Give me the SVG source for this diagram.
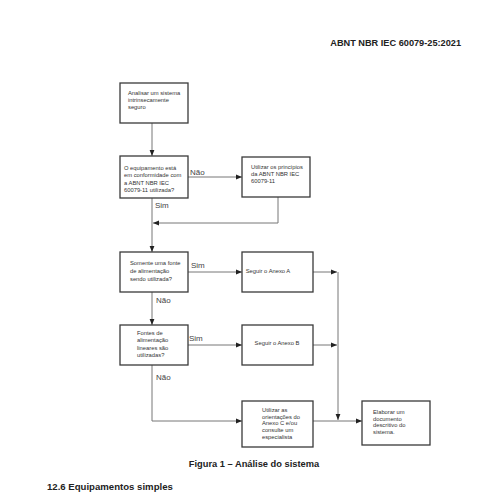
<svg xmlns="http://www.w3.org/2000/svg" width="500" height="500" viewBox="0 0 500 500">
<defs>
<marker id="ah" viewBox="0 0 10 10" refX="10" refY="5" markerWidth="7" markerHeight="6" markerUnits="userSpaceOnUse" orient="auto"><path d="M0,1 L10,5 L0,9 z" fill="#222"/></marker>
<style>
.box{fill:#fff;stroke:#3a3a3a;stroke-width:1.3}
.t{font-family:"Liberation Sans",Arial,sans-serif;font-size:5.8px;fill:#333}
.lbl{font-family:"Liberation Sans",Arial,sans-serif;font-size:8px;fill:#444}
.c{fill:none;stroke:#777;stroke-width:1}
.h{font-family:"Liberation Sans",Arial,sans-serif;font-weight:bold;fill:#222}
</style>
</defs>
<rect width="500" height="500" fill="#fff"/>
<text class="h" x="461" y="46" font-size="9.2" text-anchor="end">ABNT NBR IEC 60079-25:2021</text>

<g id="connectors">
<line class="c" x1="152" y1="123" x2="152" y2="156" marker-end="url(#ah)"/>
<line class="c" x1="188" y1="177" x2="242" y2="177" marker-end="url(#ah)"/>
<polyline class="c" points="278,197 278,223 153,223" marker-end="url(#ah)"/>
<line class="c" x1="152" y1="198" x2="152" y2="252" marker-end="url(#ah)"/>
<line class="c" x1="188" y1="272" x2="242" y2="272" marker-end="url(#ah)"/>
<line class="c" x1="313" y1="272" x2="337" y2="272" marker-end="url(#ah)"/>
<line class="c" x1="152" y1="292" x2="152" y2="325" marker-end="url(#ah)"/>
<line class="c" x1="188" y1="345" x2="242" y2="345" marker-end="url(#ah)"/>
<line class="c" x1="313" y1="345" x2="337" y2="345" marker-end="url(#ah)"/>
<polyline class="c" points="152,365 152,421 242,421" marker-end="url(#ah)"/>
<line class="c" x1="338" y1="272" x2="338" y2="420" marker-end="url(#ah)"/>
<line class="c" x1="313" y1="421" x2="362" y2="421" marker-end="url(#ah)"/>
<text class="lbl" x="190" y="175">Não</text>
<text class="lbl" x="155" y="208">Sim</text>
<text class="lbl" x="191" y="268">Sim</text>
<text class="lbl" x="156" y="303">Não</text>
<text class="lbl" x="189" y="341">Sim</text>
<text class="lbl" x="156" y="380">Não</text>
</g>

<g id="n1"><rect class="box" x="120" y="83" width="68" height="40"/>
<text class="t" x="128" y="95">Analisar um sistema</text><text class="t" x="128" y="102">intrinsecamente</text><text class="t" x="128" y="109">seguro</text></g>

<g id="n2"><rect class="box" x="120" y="156" width="68" height="42"/>
<text class="t" x="124" y="170">O equipamento está</text><text class="t" x="124" y="177">em conformidade com</text><text class="t" x="124" y="184.5">a ABNT NBR IEC</text><text class="t" x="124" y="192">60079-11 utilizada?</text></g>

<g id="n3"><rect class="box" x="242" y="157" width="68" height="40"/>
<text class="t" x="251" y="169">Utilizar os princípios</text><text class="t" x="251" y="176">da ABNT NBR IEC</text><text class="t" x="251" y="183">60079-11</text></g>

<g id="n4"><rect class="box" x="120" y="252" width="68" height="40"/>
<text class="t" x="130" y="265">Somente uma fonte</text><text class="t" x="130" y="273">de alimentação</text><text class="t" x="130" y="281">sendo utilizada?</text></g>

<g id="n5"><rect class="box" x="242" y="252" width="71" height="40"/>
<text class="t" x="268" y="273" text-anchor="middle">Seguir o Anexo A</text></g>

<g id="n6"><rect class="box" x="120" y="325" width="68" height="40"/>
<text class="t" x="137" y="335">Fontes de</text><text class="t" x="137" y="342">alimentação</text><text class="t" x="137" y="350">lineares são</text><text class="t" x="137" y="357">utilizadas?</text></g>

<g id="n7"><rect class="box" x="242" y="325" width="71" height="40"/>
<text class="t" x="277" y="345" text-anchor="middle">Seguir o Anexo B</text></g>

<g id="n8"><rect class="box" x="242" y="401" width="71" height="46"/>
<text class="t" x="262" y="412">Utilizar  as</text><text class="t" x="262" y="418.5">orientações do</text><text class="t" x="262" y="425">Anexo C e/ou</text><text class="t" x="262" y="432">consulte um</text><text class="t" x="262" y="439">especialista</text></g>

<g id="n9"><rect class="box" x="362" y="401" width="68" height="44"/>
<text class="t" x="373" y="414">Elaborar um</text><text class="t" x="373" y="420.5">documento</text><text class="t" x="373" y="427">descritivo do</text><text class="t" x="373" y="434">sistema.</text></g>

<text class="h" x="254" y="467" font-size="9.3" text-anchor="middle">Figura 1 – Análise do sistema</text>
<text class="h" x="47" y="490" font-size="9.6">12.6 Equipamentos simples</text>
</svg>
